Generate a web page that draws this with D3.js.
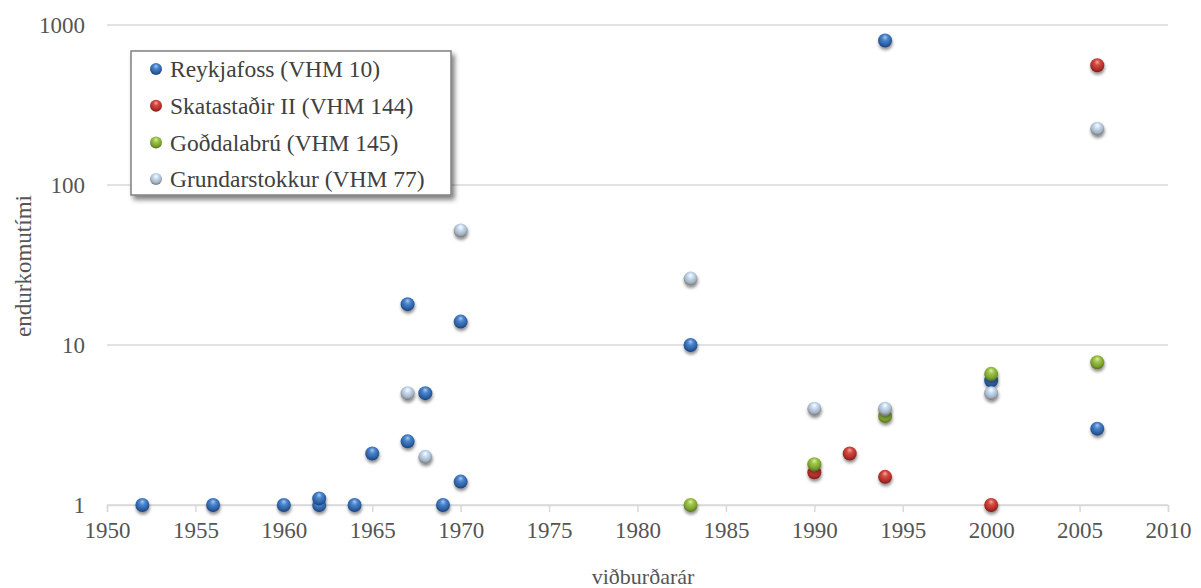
<!DOCTYPE html>
<html>
<head>
<meta charset="utf-8">
<script src="https://cdn.jsdelivr.net/npm/d3@7"></script>
<style>
  body { margin: 0; background: #fff; }
  svg { display: block; }
</style>
</head>
<body>
<div class="chart"></div>
<script>
// series data: years and return periods (endurkomutími)
const reykjafossYears  = [1952, 1956, 1960, 1962, 1962, 1964, 1965, 1967, 1967, 1968, 1969, 1970, 1970, 1983, 1994, 2000, 2006];
const reykjafossValues = [1,    1,    1,    1,    1.1,  1,    2.1,  18,   2.5,  5,    1,    14,   1.4,  10,   800,  6,    3];

const skatastadirYears  = [1990, 1992, 1994, 2000, 2006];
const skatastadirValues = [1.6,  2.1,  1.5,  1,    560];

const godalabruYears  = [1983, 1990, 1994, 2000, 2006];
const godalabruValues = [1,    1.8,  3.6,  6.6,  7.8];

const grundarYears  = [1967, 1968, 1970, 1983, 1990, 1994, 2000, 2006];
const grundarValues = [5,    2,    52,   26,   4,    4,    5,    225];

const seriesNames = ['Reykjafoss (VHM 10)', 'Skatastaðir II (VHM 144)', 'Goðdalabrú (VHM 145)', 'Grundarstokkur (VHM 77)'];
const xTicks = d3.range(1950, 2011, 5);
const yTicks = [1, 10, 100, 1000];

const series = [
  {name: seriesNames[0], years: reykjafossYears, values: reykjafossValues, grad: 'g-blue'},
  {name: seriesNames[1], years: skatastadirYears, values: skatastadirValues, grad: 'g-red'},
  {name: seriesNames[2], years: godalabruYears, values: godalabruValues, grad: 'g-green'},
  {name: seriesNames[3], years: grundarYears, values: grundarValues, grad: 'g-light'}
];

const width = 1201, height = 588;
const font = "'Liberation Serif', 'Times New Roman', serif";

const svg = d3.select('.chart').append('svg')
  .attr('width', width)
  .attr('height', height);

const x = d3.scaleLinear().domain([1950, 2010]).range([107, 1168]);
const y = d3.scaleLog().domain([1, 1000]).range([505, 25]);

// gradients for the shiny ball markers
const defs = svg.append('defs');
const grads = {
  'g-blue':  ['#a9c8f0', '#4a84cc', '#2f63a6', '#1d4278'],
  'g-red':   ['#f3a9a3', '#d24a40', '#b3302a', '#7c1b17'],
  'g-green': ['#dcefa8', '#9cc446', '#7ea331', '#55711c'],
  'g-light': ['#ffffff', '#c3dbf4', '#a9b4c0', '#6f767e']
};
Object.keys(grads).forEach(function(id){
  const c = grads[id];
  const g = defs.append('radialGradient').attr('id', id)
    .attr('cx', '50%').attr('cy', '40%').attr('r', '60%').attr('fx', '50%').attr('fy', '25%');
  g.append('stop').attr('offset', '0%').attr('stop-color', c[0]);
  g.append('stop').attr('offset', '35%').attr('stop-color', c[1]);
  g.append('stop').attr('offset', '72%').attr('stop-color', c[2]);
  g.append('stop').attr('offset', '100%').attr('stop-color', c[3]);
});
const shadow = defs.append('filter').attr('id', 'ballShadow')
  .attr('x', '-50%').attr('y', '-50%').attr('width', '200%').attr('height', '200%');
shadow.append('feDropShadow').attr('dx', 0.5).attr('dy', 2.5).attr('stdDeviation', 1.6)
  .attr('flood-color', '#000').attr('flood-opacity', 0.45);
const boxShadow = defs.append('filter').attr('id', 'boxShadow')
  .attr('x', '-10%').attr('y', '-10%').attr('width', '130%').attr('height', '130%');
boxShadow.append('feDropShadow').attr('dx', 3).attr('dy', 4).attr('stdDeviation', 2.5)
  .attr('flood-color', '#000').attr('flood-opacity', 0.5);

// gridlines
svg.append('g')
  .selectAll('line')
  .data(yTicks)
  .enter()
  .append('line')
    .attr('x1', x(1950))
    .attr('x2', x(2010))
    .attr('y1', function(d){ return y(d); })
    .attr('y2', function(d){ return y(d); })
    .attr('stroke', '#d9d9d9')
    .attr('stroke-width', 1.5);

// x axis
const xAxis = svg.append('g')
  .attr('transform', 'translate(0,' + y(1) + ')')
  .call(d3.axisBottom(x).tickValues(xTicks).tickFormat(d3.format('d')).tickSize(7).tickPadding(10));
xAxis.attr('font-family', null);
xAxis.select('.domain').attr('stroke', '#d9d9d9').attr('stroke-width', 1.5);
xAxis.selectAll('.tick line').attr('stroke', '#d9d9d9').attr('stroke-width', 1.5);
xAxis.selectAll('.tick text')
  .attr('fill', '#555')
  .style('font-family', font)
  .style('font-size', '23px');

// y axis labels
const yAxis = svg.append('g')
  .attr('transform', 'translate(' + x(1950) + ',0)')
  .call(d3.axisLeft(y).tickValues(yTicks).tickFormat(d3.format('d')).tickSize(0).tickPadding(22));
yAxis.attr('font-family', null);
yAxis.select('.domain').remove();
yAxis.selectAll('.tick text')
  .attr('fill', '#555')
  .style('font-family', font)
  .style('font-size', '23px');

// axis titles
svg.append('text')
  .attr('x', 643)
  .attr('y', 584)
  .attr('text-anchor', 'middle')
  .attr('fill', '#555')
  .style('font-family', font)
  .style('font-size', '22px')
  .text('viðburðarár');

svg.append('text')
  .attr('transform', 'translate(31,266) rotate(-90)')
  .attr('text-anchor', 'middle')
  .attr('fill', '#555')
  .style('font-family', font)
  .style('font-size', '23px')
  .text('endurkomutími');

// points
series.forEach(function(s){
  const pts = s.years.map(function(yr, i){ return {year: yr, value: s.values[i]}; });
  const g = svg.append('g').attr('filter', 'url(#ballShadow)');
  g.selectAll('circle')
    .data(pts)
    .enter()
    .append('circle')
      .attr('cx', function(d){ return x(d.year); })
      .attr('cy', function(d){ return y(d.value); })
      .attr('r', 7)
      .attr('fill', 'url(#' + s.grad + ')');
});

// legend
const legend = svg.append('g');
legend.append('rect')
  .attr('x', 131)
  .attr('y', 51)
  .attr('width', 320)
  .attr('height', 144)
  .attr('fill', '#fff')
  .attr('stroke', '#808080')
  .attr('stroke-width', 1.5)
  .attr('filter', 'url(#boxShadow)');

const rows = legend.selectAll('g.row')
  .data(series)
  .enter()
  .append('g')
    .attr('class', 'row')
    .attr('transform', function(d, i){ return 'translate(156,' + (69 + i * 36.7) + ')'; });
rows.append('circle')
  .attr('r', 6)
  .attr('fill', function(d){ return 'url(#' + d.grad + ')'; });
rows.append('text')
  .attr('x', 14)
  .attr('dy', '0.35em')
  .attr('fill', '#404040')
  .style('font-family', font)
  .style('font-size', '23.5px')
  .text(function(d){ return d.name; });
</script>
</body>
</html>
